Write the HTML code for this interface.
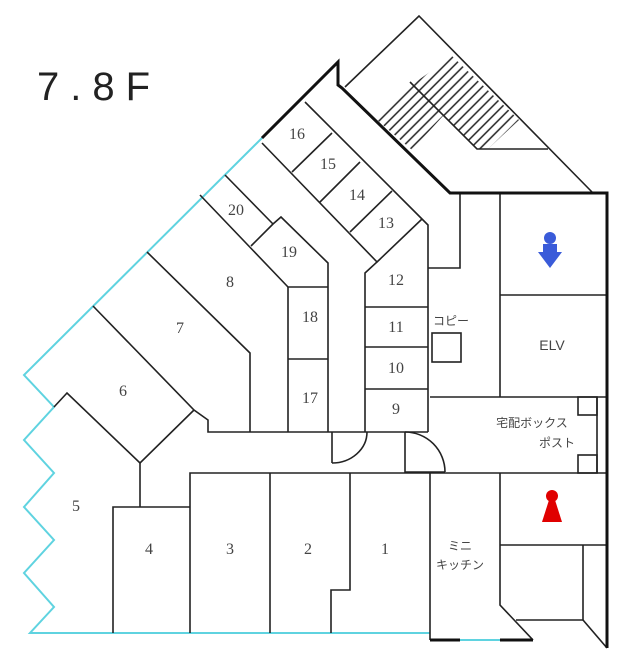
<!DOCTYPE html>
<html><head><meta charset="utf-8"><style>
html,body{margin:0;padding:0;background:#fff;}
svg{display:block;}
.n{font-family:"Liberation Serif",serif;font-size:16px;fill:#444;text-anchor:middle;}
.j{font-family:"Liberation Sans","Noto Sans CJK JP",sans-serif;font-size:12px;fill:#444;text-anchor:middle;}
</style></head><body>
<svg width="628" height="662" viewBox="0 0 628 662" xmlns="http://www.w3.org/2000/svg">
<defs>
<pattern id="h" width="7" height="7" patternUnits="userSpaceOnUse" patternTransform="rotate(-45)">
<line x1="0" y1="3.5" x2="7" y2="3.5" stroke="#222" stroke-width="1.5"/>
</pattern>
</defs>
<text x="37" y="100" style="font-family:'Liberation Sans',sans-serif;font-size:40px;fill:#222;letter-spacing:11px">7.8F</text>
<g fill="none" stroke="#5fd3e0" stroke-width="2">
<polyline points="262,138 24,375 54,407 24,440 54,473 24,507 54,540 24,573 54,607 30,633 430,633"/>
<line x1="460" y1="640" x2="500" y2="640"/>
</g>
<polygon points="375,118 410,82 443,116 412,150" fill="url(#h)"/>
<polygon points="413,84 452,56 519,120 488,149 477,149" fill="url(#h)"/>
<g fill="none" stroke="#222" stroke-width="1.6">
<polyline points="345,87 419,16 592,192"/>
<polyline points="410,82 477,149 548,149"/>
<polyline points="262,143 377,262 365,273 365,432"/>
<polyline points="305,102 422,219 428,225 428,432"/>
<line x1="292" y1="172" x2="332" y2="133"/>
<line x1="320" y1="202" x2="360" y2="162"/>
<line x1="350" y1="232" x2="392" y2="191"/>
<line x1="377" y1="262" x2="422" y2="219"/>
<line x1="365" y1="307" x2="428" y2="307"/>
<line x1="365" y1="347" x2="428" y2="347"/>
<line x1="365" y1="389" x2="428" y2="389"/>
<polyline points="428,268 460,268 460,193"/>
<polyline points="225,175 273,224"/>
<polyline points="200,195 288,287 328,287"/>
<polyline points="251,246 273,224 281,217 328,263 328,432"/>
<line x1="288" y1="287" x2="288" y2="432"/>
<line x1="288" y1="359" x2="328" y2="359"/>
<polyline points="147,252 250,353 250,432"/>
<polyline points="93,306 194,410 208,420 208,432 428,432"/>
<polyline points="54,407 67,393 140,463 194,410"/>
<line x1="140" y1="463" x2="140" y2="507"/>
<polyline points="113,633 113,507 190,507"/>
<polyline points="190,633 190,473 607,473"/>
<line x1="270" y1="473" x2="270" y2="633"/>
<polyline points="350,473 350,590 331,590 331,633"/>
<line x1="430" y1="473" x2="430" y2="640"/>
<line x1="332" y1="432" x2="332" y2="463"/>
<path d="M332,463 A35,31 0 0 0 367,432"/>
<polyline points="405,432 405,472 445,472"/>
<path d="M405,432 A40,40 0 0 1 445,472"/>
<line x1="430" y1="397" x2="607" y2="397"/>
<line x1="500" y1="193" x2="500" y2="397"/>
<line x1="500" y1="295" x2="607" y2="295"/>
<rect x="432" y="333" width="29" height="29"/>
<line x1="597" y1="397" x2="597" y2="473"/>
<rect x="578" y="397" width="19" height="18"/>
<rect x="578" y="455" width="19" height="18"/>
<polyline points="500,473 500,605 533,640"/>
<line x1="500" y1="545" x2="607" y2="545"/>
<polyline points="516,620 583,620 583,545"/>
<line x1="583" y1="620" x2="607" y2="648"/>
</g>
<g fill="none" stroke="#111" stroke-width="3">
<polyline points="262,138 268,132 338,62 338,85 342,88 450,193 607,193 607,648"/>
<line x1="430" y1="640" x2="460" y2="640"/>
<line x1="500" y1="640" x2="533" y2="640"/>
</g>
<g fill="#3a5bd9">
<circle cx="550" cy="238" r="6"/>
<path d="M543,244 L557,244 L557,252 L562,252 L550,268 L538,252 L543,252 Z"/>
</g>
<g fill="#e00000">
<circle cx="552" cy="496" r="6"/>
<path d="M549,500 L555,500 L562,522 L542,522 Z"/>
</g>
<text class="n" x="297" y="139">16</text>
<text class="n" x="328" y="169">15</text>
<text class="n" x="357" y="200">14</text>
<text class="n" x="386" y="228">13</text>
<text class="n" x="396" y="285">12</text>
<text class="n" x="396" y="332">11</text>
<text class="n" x="396" y="373">10</text>
<text class="n" x="396" y="414">9</text>
<text class="n" x="236" y="215">20</text>
<text class="n" x="289" y="257">19</text>
<text class="n" x="310" y="322">18</text>
<text class="n" x="310" y="403">17</text>
<text class="n" x="230" y="287">8</text>
<text class="n" x="180" y="333">7</text>
<text class="n" x="123" y="396">6</text>
<text class="n" x="76" y="511">5</text>
<text class="n" x="149" y="554">4</text>
<text class="n" x="230" y="554">3</text>
<text class="n" x="308" y="554">2</text>
<text class="n" x="385" y="554">1</text>
<text x="552" y="350" style="font-family:'Liberation Sans',sans-serif;font-size:14px;fill:#444;text-anchor:middle">ELV</text>
<text class="j" x="451" y="325">コピー</text>
<text class="j" x="532" y="427">宅配ボックス</text>
<text class="j" x="557" y="447">ポスト</text>
<text class="j" x="460" y="550">ミニ</text>
<text class="j" x="460" y="569">キッチン</text>
</svg>
</body></html>
